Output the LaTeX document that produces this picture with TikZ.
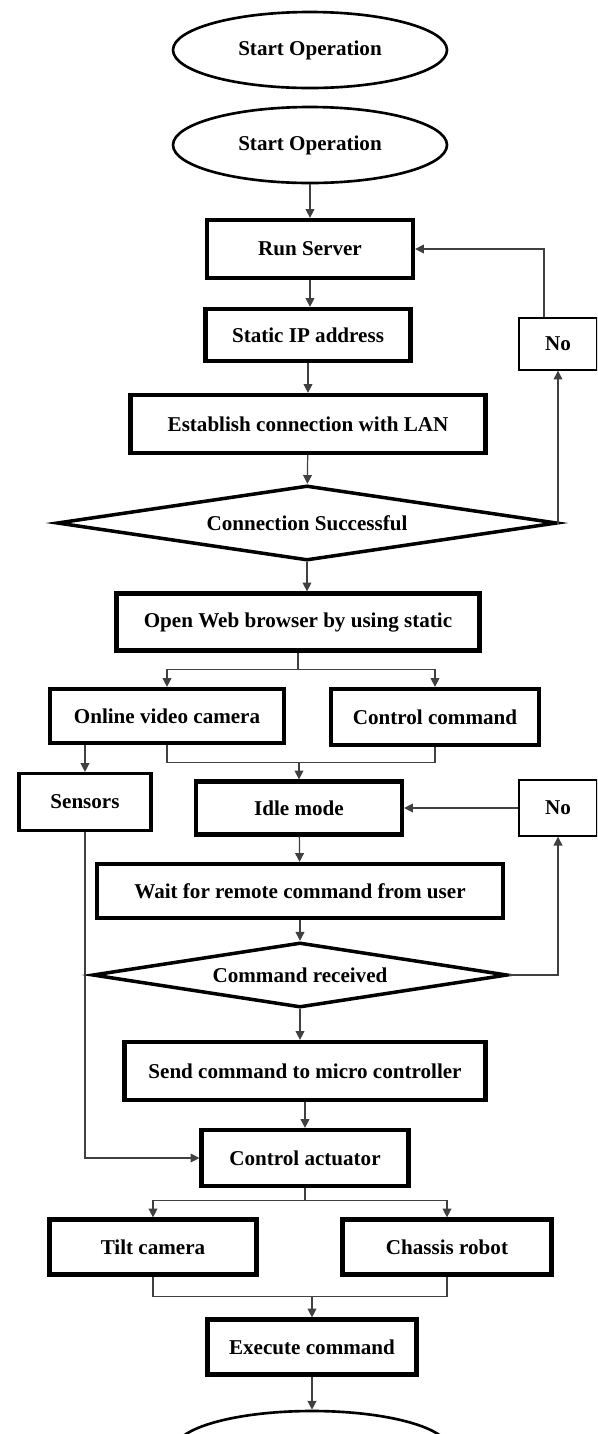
\documentclass[tikz,border=0pt]{standalone}
\usepackage{fontspec}
\setmainfont{Liberation Serif}
\usepackage{tikz}
\usetikzlibrary{arrows.meta, positioning, shapes.geometric}

\begin{document}
\begin{tikzpicture}[
      every node/.style={font=\bfseries\fontsize{12}{14}\selectfont, align=center, inner sep=0pt},
      startstop/.style={ellipse, draw, line width=1.5pt, minimum width=5.48cm, minimum height=1.52cm},
      process/.style={rectangle, draw, line width=2.4pt},
      decision/.style={diamond, draw, line width=2pt},
      nobox/.style={rectangle, draw, line width=0.8pt, minimum width=1.56cm},
      link/.style={draw=black!75, line width=0.7pt},
      arrow/.style={link, -{Triangle[length=5pt, width=5pt]}}
    ]
      \useasboundingbox (0,0) rectangle (11.94,-28.68);
      \clip (0,0) rectangle (11.94,-28.68);

      \node[startstop] (start1) at (6.2,-1.0) {Start Operation};
      \node[startstop] (start2) at (6.2,-2.9) {Start Operation};
      \node[process, minimum width=4.12cm, minimum height=1.16cm] (run) at (6.2,-4.98) {Run Server};
      \node[process, minimum width=4.1cm, minimum height=1.04cm] (ip) at (6.16,-6.7) {Static IP address};
      \node[process, minimum width=7.1cm, minimum height=1.16cm] (lan) at (6.16,-8.48) {Establish connection with LAN};
      \node[decision, aspect=6.5, minimum width=10cm, minimum height=1.5cm] (conn) at (6.14,-10.46) {Connection Successful};
      \node[nobox, minimum height=1.04cm] (no1) at (11.16,-6.88) {No};
      \node[process, minimum width=7.26cm, minimum height=1.14cm] (open) at (5.96,-12.44) {Open Web browser by using static};
      \node[process, minimum width=4.68cm, minimum height=1.08cm] (cam) at (3.34,-14.32) {Online video camera};
      \node[process, minimum width=4.16cm, minimum height=1.12cm] (cmd) at (8.7,-14.34) {Control command};
      \node[process, line width=1.8pt, minimum width=2.64cm, minimum height=1.14cm] (sensors) at (1.7,-16.04) {Sensors};
      \node[process, minimum width=4.12cm, minimum height=1.06cm] (idle) at (5.98,-16.16) {Idle mode};
      \node[nobox, minimum height=1.12cm] (no2) at (11.16,-16.16) {No};
      \node[process, minimum width=8.12cm, minimum height=1.08cm] (wait) at (6.0,-17.82) {Wait for remote command from user};
      \node[decision, aspect=6.3, minimum width=8.3cm, minimum height=1.3cm] (recv) at (6.0,-19.5) {Command received};
      \node[process, minimum width=7.22cm, minimum height=1.16cm] (send) at (6.1,-21.42) {Send command to micro controller};
      \node[process, minimum width=4.14cm, minimum height=1.12cm] (act) at (6.1,-23.16) {Control actuator};
      \node[process, minimum width=4.14cm, minimum height=1.1cm] (tilt) at (3.06,-24.94) {Tilt camera};
      \node[process, minimum width=4.18cm, minimum height=1.1cm] (chassis) at (8.94,-24.94) {Chassis robot};
      \node[process, minimum width=4.18cm, minimum height=1.1cm] (exec) at (6.24,-26.94) {Execute command};
      \node[startstop] (stop) at (6.24,-28.98) {};

      \draw[arrow] (start2) -- (run);
      \draw[arrow] (run.south) -- (run.south |- ip.north);
      \draw[arrow] (ip) -- (lan);
      \draw[arrow] (lan) -- (conn);
      \draw[arrow] (conn.east) -| (no1.south);
      \draw[arrow] ([xshift=-0.28cm]no1.north) |- (run.east);
      \draw[arrow] (conn.south) -- (conn.south |- open.north);

      \draw[link] (open.south) -- ++(0,-0.34) coordinate (split1);
      \draw[arrow] (split1) -| (cam.north);
      \draw[arrow] (split1) -| (cmd.north);
      \draw[link] (cam.south) -- ++(0,-0.34) coordinate (join1) -| (cmd.south);
      \draw[arrow] (join1 -| idle.north) -- (idle.north);
      \draw[arrow] (sensors.north |- cam.south) -- (sensors.north);

      \draw[arrow] (no2.west) -- (idle.east);
      \draw[arrow] (idle) -- (wait);
      \draw[arrow] (wait) -- (recv);
      \draw[arrow] (recv.east) -| (no2.south);
      \draw[arrow] (recv.south) -- (recv.south |- send.north);
      \draw[arrow] (send) -- (act);
      \draw[arrow] (sensors.south) |- (act.west);

      \draw[link] (act.south) -- ++(0,-0.24) coordinate (split2);
      \draw[arrow] (split2) -| (tilt.north);
      \draw[arrow] (split2) -| (chassis.north);
      \draw[link] (tilt.south) -- ++(0,-0.4) coordinate (join2) -| (chassis.south);
      \draw[arrow] (join2 -| exec.north) -- (exec.north);
      \draw[arrow] (exec) -- (stop);
    \end{tikzpicture}
\end{document}
